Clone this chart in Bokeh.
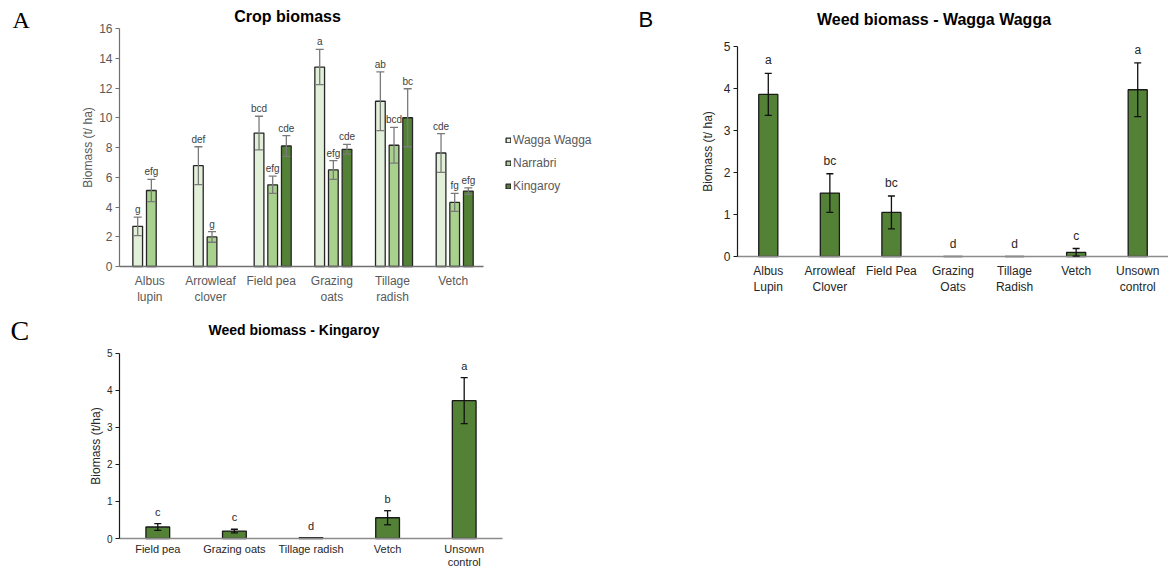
from bokeh.plotting import figure
from bokeh.models import (ColumnDataSource, Range1d, FixedTicker, Whisker, TeeHead,
                          LabelSet, Label, Legend, LegendItem)
from bokeh.core.properties import value
from bokeh.layouts import column, row
from bokeh.embed import file_html
from bokeh.resources import INLINE

# ---------------- Panel A : crop biomass (t/ha) ----------------
crops = ["Albus lupin", "Arrowleaf clover", "Field pea", "Grazing oats", "Tillage radish", "Vetch"]
crop_ticks = ["Albus\nlupin", "Arrowleaf\nclover", "Field pea", "Grazing\noats", "Tillage\nradish", "Vetch"]
sites = ["Wagga Wagga", "Narrabri", "Kingaroy"]
wagga_crop = [2.70, 6.78, 8.97, 13.41, 11.11, 7.63]
wagga_crop_se = [0.62, 1.27, 1.13, 1.18, 1.97, 1.30]
wagga_crop_letters = ["g", "def", "bcd", "a", "ab", "cde"]
narrabri_crop = [5.11, 1.99, 5.49, 6.49, 8.15, 4.31]
narrabri_crop_se = [0.75, 0.36, 0.58, 0.63, 1.20, 0.60]
narrabri_crop_letters = ["efg", "g", "efg", "efg", "bcd", "fg"]
kingaroy_crop = [None, None, 8.10, 7.88, 10.00, 5.07]
kingaroy_crop_se = [None, None, 0.70, 0.33, 1.95, 0.22]
kingaroy_crop_letters = [None, None, "cde", "cde", "bc", "efg"]

# ---------------- Panel B : weed biomass Wagga Wagga ----------------
wagga_trts = ["Albus Lupin", "Arrowleaf Clover", "Field Pea", "Grazing Oats",
              "Tillage Radish", "Vetch", "Unsown control"]
wagga_trt_ticks = ["Albus\nLupin", "Arrowleaf\nClover", "Field Pea", "Grazing\nOats",
                   "Tillage\nRadish", "Vetch", "Unsown\ncontrol"]
wagga_weed = [3.86, 1.51, 1.05, 0.0, 0.0, 0.10, 3.97]
wagga_weed_se = [0.50, 0.46, 0.39, 0.0, 0.0, 0.09, 0.64]
wagga_weed_letters = ["a", "bc", "bc", "d", "d", "c", "a"]

# ---------------- Panel C : weed biomass Kingaroy ----------------
king_trts = ["Field pea", "Grazing oats", "Tillage radish", "Vetch", "Unsown control"]
king_trt_ticks = ["Field pea", "Grazing oats", "Tillage radish", "Vetch", "Unsown\ncontrol"]
king_weed = [0.31, 0.20, 0.02, 0.56, 3.72]
king_weed_se = [0.09, 0.05, 0.0, 0.19, 0.62]
king_weed_letters = ["c", "c", "d", "b", "a"]

FONT = "Liberation Sans"
SERIF = "Liberation Serif"
SITE_COLORS = ["#e2efd9", "#a9d18e", "#538135"]
WEED_COLOR = "#538135"


def base_fig(width, height, n, ymax, yticks, x0, x1, y0, y1,
             tick_color, axis_color, xaxis_color, tick_size, xtick_size, ylabel,
             ylabel_color, ylabel_size, labels, x_standoff, y_label_standoff, x_line_height):
    """x0/x1: pixel columns of the category axis ends, y0/y1: pixel rows of 0 and ymax."""
    ux = (x1 - x0) / n
    uy = (y0 - y1) / ymax
    p = figure(width=width, height=height,
               x_range=Range1d(-x0 / ux, (width - x0) / ux),
               y_range=Range1d(-(height - y0) / uy, y0 / uy),
               output_backend="svg", toolbar_location=None, title=None,
               min_border_left=0, min_border_right=0,
               min_border_top=0, min_border_bottom=0)
    p.outline_line_color = None
    p.xgrid.visible = False
    p.ygrid.visible = False
    p.background_fill_color = "white"
    p.border_fill_color = "white"

    ya = p.yaxis[0]
    ya.fixed_location = 0
    ya.bounds = (0, ymax)
    ya.ticker = FixedTicker(ticks=yticks, minor_ticks=[])
    ya.major_tick_in = 0
    ya.major_tick_out = 4
    ya.major_tick_line_color = axis_color
    ya.axis_line_color = axis_color
    ya.axis_line_width = 1.2
    ya.major_label_text_font = FONT
    ya.major_label_text_font_size = tick_size
    ya.major_label_text_color = tick_color
    ya.major_label_standoff = 3
    ya.axis_label = ylabel
    ya.axis_label_text_font = FONT
    ya.axis_label_text_font_style = "normal"
    ya.axis_label_text_font_size = ylabel_size
    ya.axis_label_text_color = ylabel_color
    ya.axis_label_standoff = y_label_standoff

    xa = p.xaxis[0]
    xa.fixed_location = 0
    xa.bounds = (0, n)
    xa.ticker = FixedTicker(ticks=[i + 0.5 for i in range(n)], minor_ticks=[])
    xa.major_label_overrides = {i + 0.5: lab for i, lab in enumerate(labels)}
    xa.major_tick_in = 0
    xa.major_tick_out = 0
    xa.axis_line_color = xaxis_color
    xa.axis_line_width = 1.5
    xa.major_label_text_font = FONT
    xa.major_label_text_font_size = xtick_size
    xa.major_label_text_color = tick_color
    xa.major_label_text_line_height = x_line_height
    xa.major_label_standoff = x_standoff
    return p, ux, uy


def add_errors(p, xs, vals, ses, letters, color, cap, font_size, text_color, yoff):
    wx, wlo, whi = [], [], []
    for x, v, e in zip(xs, vals, ses):
        if e > 0:
            wx.append(x)
            wlo.append(v - e)
            whi.append(v + e)
    wsrc = ColumnDataSource(dict(x=wx, lower=wlo, upper=whi))
    w = Whisker(source=wsrc, base="x", upper="upper", lower="lower",
                line_color=color, line_width=1.3, level="overlay",
                upper_head=TeeHead(size=cap, line_color=color, line_width=1.3),
                lower_head=TeeHead(size=cap, line_color=color, line_width=1.3))
    p.add_layout(w)
    lsrc = ColumnDataSource(dict(x=xs, y=[v + e for v, e in zip(vals, ses)], letter=letters))
    ls = LabelSet(source=lsrc, x="x", y="y", text="letter", text_align="center",
                  text_baseline="alphabetic", y_offset=yoff,
                  text_font=value(FONT), text_font_size=value(font_size),
                  text_color=value(text_color))
    p.add_layout(ls)


def px_label(p, ux, uy, x0, y0, px, py, text, font, size, bold, align):
    """place a text centred vertically at canvas pixel (px, py) through the figure's data scale"""
    p.add_layout(Label(x=(px - x0) / ux, y=(y0 - py) / uy, text=text, text_font=font,
                       text_font_size=size, text_font_style="bold" if bold else "normal",
                       text_color="black", text_align=align, text_baseline="middle"))


TOP_H = 306
BOT_H = 262

# ================= Panel A =================
pA, uxA, uyA = base_fig(630, TOP_H, len(crops), 16, list(range(0, 17, 2)), 119, 483, 266, 28,
                        "#595959", "#707070", "#707070", "12px", "12px", "Biomass (t/ ha)",
                        "#595959", "12px", crop_ticks, 7, 1, 1.2)

site_vals = [wagga_crop, narrabri_crop, kingaroy_crop]
site_se = [wagga_crop_se, narrabri_crop_se, kingaroy_crop_se]
site_let = [wagga_crop_letters, narrabri_crop_letters, kingaroy_crop_letters]
offsets = [-0.2, 0.025, 0.25]
legend_items = []
for s, site in enumerate(sites):
    xs, tops, ses, lets = [], [], [], []
    for i, v in enumerate(site_vals[s]):
        if v is None:
            continue
        xs.append(i + 0.5 + offsets[s])
        tops.append(v)
        ses.append(site_se[s][i])
        lets.append(site_let[s][i])
    src = ColumnDataSource(dict(x=xs, top=tops))
    r = pA.vbar(x="x", top="top", bottom=0, width=0.16, source=src,
                fill_color=SITE_COLORS[s], line_color="#262626", line_width=1.3)
    legend_items.append(LegendItem(label=site, renderers=[r]))
    add_errors(pA, xs, tops, ses, lets, "#7a7a7a", 8, "10px", "#404040", 4)

leg = Legend(items=legend_items, location=(505, TOP_H - 193), orientation="vertical",
             border_line_color=None, background_fill_alpha=0, padding=0, margin=0,
             spacing=9, label_height=14, glyph_width=6, glyph_height=6, label_standoff=2,
             label_text_font=FONT, label_text_font_size="12px", label_text_color="#595959")
pA.add_layout(leg, "center")

px_label(pA, uxA, uyA, 119, 266, 287, 15.7, "Crop biomass", FONT, "16px", True, "center")
px_label(pA, uxA, uyA, 119, 266, 12, 19.5, "A", SERIF, "24px", False, "left")

# ================= Panel B =================
pB, uxB, uyB = base_fig(538, TOP_H, len(wagga_trts), 5, list(range(0, 6)), 107, 538, 256, 46,
                        "#262626", "#1a1a1a", "#8c8c8c", "12px", "12px", "Biomass (t/ ha)",
                        "#262626", "12px", wagga_trt_ticks, 7, 6, 1.2)
xsB = [i + 0.5 for i in range(len(wagga_trts))]
pB.vbar(x=xsB, top=wagga_weed, bottom=0, width=0.31,
        fill_color=WEED_COLOR, line_color="#1a1a1a", line_width=1.3)
add_errors(pB, xsB, wagga_weed, wagga_weed_se, wagga_weed_letters, "#111111", 7, "12px", "#262626", 9)
px_label(pB, uxB, uyB, 107, 256, 303.5, 18.7, "Weed biomass - Wagga Wagga", FONT, "16px", True,
         "center")
px_label(pB, uxB, uyB, 107, 256, 8, 19, "B", FONT, "22px", False, "left")

# ================= Panel C =================
C_TOP = TOP_H
pC, uxC, uyC = base_fig(630, BOT_H, len(king_trts), 5, list(range(0, 6)), 119, 502,
                        538 - C_TOP, 352.7 - C_TOP,
                        "#262626", "#1a1a1a", "#8c8c8c", "10px", "11px", "Biomass (t/ha)",
                        "#262626", "12px", king_trt_ticks, 4, 1, 1.15)
xsC = [i + 0.5 for i in range(len(king_trts))]
pC.vbar(x=xsC, top=king_weed, bottom=0, width=0.31,
        fill_color=WEED_COLOR, line_color="#1a1a1a", line_width=1.3)
add_errors(pC, xsC, king_weed, king_weed_se, king_weed_letters, "#111111", 7, "11px", "#262626", 8)
px_label(pC, uxC, uyC, 119, 538 - C_TOP, 293.5, 329 - C_TOP, "Weed biomass - Kingaroy", FONT,
         "14px", True, "center")
px_label(pC, uxC, uyC, 119, 538 - C_TOP, 10, 329.5 - C_TOP, "C", SERIF, "28px", False, "left")

layout = column(row(pA, pB), pC)
open("out.html", "w").write(file_html(layout, INLINE))
